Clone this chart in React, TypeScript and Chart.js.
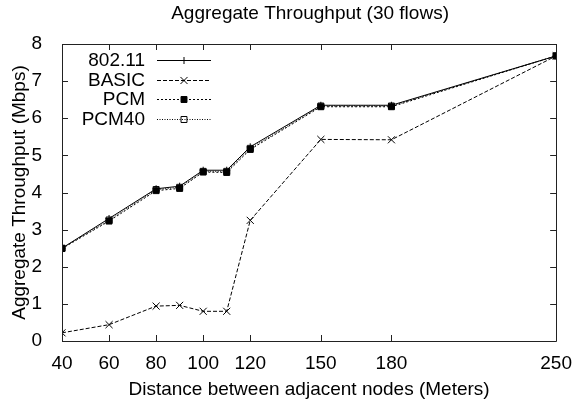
import React, { useEffect, useRef } from "react";
import { Chart, registerables } from "chart.js";

Chart.register(...registerables);

const distances = [40, 60, 80, 90, 100, 110, 120, 150, 180, 250];
const xTickValues = [40, 60, 80, 100, 120, 150, 180, 250];
const series80211 = [2.5, 3.3, 4.1, 4.17, 4.6, 4.6, 5.23, 6.35, 6.35, 7.68];
const seriesBasic = [0.22, 0.44, 0.94, 0.96, 0.8, 0.8, 3.25, 5.43, 5.42, 7.68];
const seriesPcm = [2.49, 3.23, 4.05, 4.11, 4.55, 4.54, 5.16, 6.31, 6.31, 7.68];
const seriesPcm40 = [2.5, 3.26, 4.08, 4.14, 4.57, 4.57, 5.19, 6.33, 6.33, 7.68];
const seriesNames = ["802.11", "BASIC", "PCM", "PCM40"];

const titleText = "Aggregate Throughput (30 flows)";
const xTitle = "Distance between adjacent nodes (Meters)";
const yTitle = "Aggregate Throughput (Mbps)";

const FONT = "'Liberation Sans', Arial, Helvetica, sans-serif";
const FS = 19;

type Style = { dash: number[]; point: string; fill: boolean; radius: number };
const styles: Style[] = [
  { dash: [], point: "cross", fill: false, radius: 3.5 },
  { dash: [4, 2], point: "crossRot", fill: false, radius: 5 },
  { dash: [2, 2], point: "rect", fill: true, radius: 4.2 },
  { dash: [1, 1.5], point: "rect", fill: false, radius: 4.2 },
];

function drawMarker(ctx: CanvasRenderingContext2D, s: Style, x: number, y: number) {
  ctx.save();
  ctx.setLineDash([]);
  ctx.strokeStyle = "#000";
  ctx.fillStyle = "#000";
  ctx.lineWidth = 1;
  ctx.beginPath();
  if (s.point === "cross") {
    ctx.moveTo(x - s.radius, y);
    ctx.lineTo(x + s.radius, y);
    ctx.moveTo(x, y - s.radius);
    ctx.lineTo(x, y + s.radius);
    ctx.stroke();
  } else if (s.point === "crossRot") {
    const o = s.radius * Math.SQRT1_2;
    ctx.moveTo(x - o, y - o);
    ctx.lineTo(x + o, y + o);
    ctx.moveTo(x - o, y + o);
    ctx.lineTo(x + o, y - o);
    ctx.stroke();
  } else {
    const h = s.radius * Math.SQRT1_2;
    ctx.rect(x - h, y - h, 2 * h, 2 * h);
    if (s.fill) ctx.fill();
    ctx.stroke();
  }
  ctx.restore();
}

const framePlugin = {
  id: "framePlugin",
  afterDatasetsDraw(chart: any) {
    const ctx: CanvasRenderingContext2D = chart.ctx;
    const { left, right, top, bottom } = chart.chartArea;
    const xs = chart.scales.x;
    const ys = chart.scales.y;
    ctx.save();
    ctx.strokeStyle = "#222";
    ctx.lineWidth = 1;
    ctx.setLineDash([]);
    ctx.beginPath();
    ctx.rect(Math.round(left) + 0.5, Math.round(top) + 0.5, Math.round(right - left), Math.round(bottom - top));
    ctx.stroke();
    const tl = 6;
    ctx.beginPath();
    xs.ticks.forEach((t: any) => {
      const px = Math.round(xs.getPixelForValue(t.value)) + 0.5;
      ctx.moveTo(px, bottom);
      ctx.lineTo(px, bottom - tl);
      ctx.moveTo(px, top);
      ctx.lineTo(px, top + tl);
    });
    ys.ticks.forEach((t: any) => {
      const py = Math.round(ys.getPixelForValue(t.value)) + 0.5;
      ctx.moveTo(left, py);
      ctx.lineTo(left + tl, py);
      ctx.moveTo(right, py);
      ctx.lineTo(right - tl, py);
    });
    ctx.stroke();

    // title
    ctx.fillStyle = "#000";
    ctx.font = `${FS}px ${FONT}`;
    ctx.textAlign = "center";
    ctx.textBaseline = "middle";
    ctx.fillText(titleText, (left + right) / 2 + 1, 14);

    // legend
    const textRight = 145;
    const lineStart = 157;
    const lineEnd = 211;
    const rows = [60, 79.5, 99, 118.5];
    ctx.textAlign = "right";
    seriesNames.forEach((name, i) => {
      const y = rows[i];
      ctx.fillText(name, textRight, y + 1);
      ctx.save();
      ctx.strokeStyle = "#000";
      ctx.lineWidth = 1;
      ctx.setLineDash(styles[i].dash);
      ctx.beginPath();
      ctx.moveTo(lineStart, Math.round(y) + 0.5);
      ctx.lineTo(lineEnd, Math.round(y) + 0.5);
      ctx.stroke();
      ctx.restore();
      drawMarker(ctx, styles[i], (lineStart + lineEnd) / 2, Math.round(y) + 0.5);
    });
    ctx.restore();
  },
};

export default function App() {
  const canvasRef = useRef<HTMLCanvasElement | null>(null);

  useEffect(() => {
    document.body.style.margin = "0";
    const canvas = canvasRef.current;
    if (!canvas) return;
    const allSeries = [series80211, seriesBasic, seriesPcm, seriesPcm40];
    const datasets = allSeries.map((vals, i) => ({
      label: seriesNames[i],
      data: distances.map((d, j) => ({ x: d, y: vals[j] })),
      borderColor: "#000",
      borderWidth: 1,
      borderDash: styles[i].dash,
      pointStyle: styles[i].point,
      pointRadius: styles[i].radius,
      pointBorderWidth: 1,
      pointBorderColor: "#000",
      pointBackgroundColor: styles[i].fill ? "#000" : "rgba(0,0,0,0)",
      fill: false,
      tension: 0,
    }));

    const chart = new Chart(canvas, {
      type: "line",
      data: { datasets },
      plugins: [framePlugin],
      options: {
        animation: false,
        responsive: false,
        devicePixelRatio: 1,
        layout: { padding: { top: 44, right: 17, left: 0, bottom: 0 } },
        plugins: {
          legend: { display: false },
          title: { display: false },
          tooltip: { enabled: false },
        },
        scales: {
          x: {
            type: "linear",
            min: 40,
            max: 250,
            afterBuildTicks: (scale: any) => {
              scale.ticks = xTickValues.map((v) => ({ value: v }));
            },
            afterFit: (scale: any) => {
              scale.height = 65;
            },
            grid: { display: false },
            border: { display: false },
            ticks: {
              color: "#000",
              font: { size: FS, family: FONT },
              padding: 3,
              maxRotation: 0,
              autoSkip: false,
            },
            title: {
              display: true,
              text: xTitle,
              color: "#000",
              font: { size: FS, family: FONT },
              padding: { top: 0, bottom: 5 },
            },
          },
          y: {
            min: 0,
            max: 8,
            afterFit: (scale: any) => {
              scale.width = 62;
            },
            grid: { display: false },
            border: { display: false },
            ticks: {
              stepSize: 1,
              color: "#000",
              font: { size: FS, family: FONT },
              padding: 12,
            },
            title: {
              display: true,
              text: yTitle,
              color: "#000",
              font: { size: FS, family: FONT },
              padding: { top: 8, bottom: 0 },
            },
          },
        },
      },
    } as any);
    return () => chart.destroy();
  }, []);

  return (
    <div style={{ width: 575, height: 406, background: "#fff" }}>
      <canvas ref={canvasRef} width={575} height={406} style={{ display: "block" }} />
    </div>
  );
}
